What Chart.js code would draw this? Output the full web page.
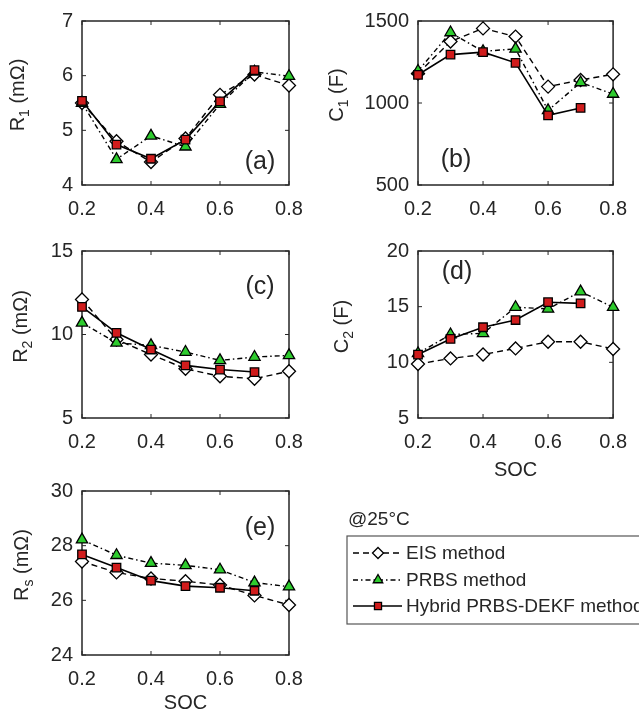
<!DOCTYPE html>
<html>
<head>
<meta charset="utf-8">
<script src="https://cdn.jsdelivr.net/npm/chart.js@4.4.1/dist/chart.umd.min.js"></script>
<style>
  body { margin: 0; background: #fff; width: 639px; height: 721px; overflow: hidden; position: relative; }
  canvas { position: absolute; }
</style>
</head>
<body>
<canvas id="pa" width="320" height="230" style="left:0;top:0"></canvas>
<canvas id="pb" width="319" height="230" style="left:320px;top:0"></canvas>
<canvas id="pc" width="320" height="240" style="left:0;top:230px"></canvas>
<canvas id="pd" width="319" height="260" style="left:320px;top:230px"></canvas>
<canvas id="pe" width="639" height="251" style="left:0;top:470px"></canvas>
<script>
// SOC points and axis ticks
const soc = [0.2, 0.3, 0.4, 0.5, 0.6, 0.7, 0.8];
const socTicks = [0.2, 0.4, 0.6, 0.8];

// (a) R1 (mOhm)
const r1Eis    = [5.5, 4.8, 4.42, 4.85, 5.65, 6.02, 5.82];
const r1Prbs   = [5.5, 4.47, 4.9, 4.7, 5.48, 6.07, 5.99];
const r1Hybrid = [5.54, 4.74, 4.48, 4.83, 5.53, 6.1];
const r1Ticks  = [4, 5, 6, 7];

// (b) C1 (F)
const c1Eis    = [1180, 1375, 1455, 1405, 1100, 1140, 1175];
const c1Prbs   = [1195, 1430, 1315, 1330, 955, 1125, 1055];
const c1Hybrid = [1172, 1295, 1310, 1245, 925, 970];
const c1Ticks  = [500, 1000, 1500];

// (c) R2 (mOhm)
const r2Eis    = [12.1, 9.7, 8.8, 7.95, 7.5, 7.35, 7.8];
const r2Prbs   = [10.7, 9.5, 9.35, 8.95, 8.45, 8.65, 8.75];
const r2Hybrid = [11.65, 10.1, 9.1, 8.15, 7.9, 7.75];
const r2Ticks  = [5, 10, 15];

// (d) C2 (F)
const c2Eis    = [9.85, 10.35, 10.7, 11.25, 11.85, 11.85, 11.2];
const c2Prbs   = [10.8, 12.5, 12.6, 14.95, 14.8, 16.35, 14.95];
const c2Hybrid = [10.7, 12.1, 13.15, 13.8, 15.4, 15.3];
const c2Ticks  = [5, 10, 15, 20];

// (e) Rs (mOhm)
const rsEis    = [27.42, 27.02, 26.8, 26.7, 26.56, 26.18, 25.83];
const rsPrbs   = [28.22, 27.65, 27.36, 27.28, 27.12, 26.65, 26.5];
const rsHybrid = [27.68, 27.2, 26.72, 26.52, 26.46, 26.35];
const rsTicks  = [24, 26, 28, 30];

const methodNames = ['EIS method', 'PRBS method', 'Hybrid PRBS-DEKF method'];

const FONT = '"Liberation Sans", Arial, sans-serif';
const INK = '#262626';

function toPoints(vals) {
    return vals.map((v, i) => ({ x: soc[i], y: v }));
}

function makeDatasets(eis, prbs, hybrid) {
    return [{
        label: methodNames[0],
        data: toPoints(eis),
        borderColor: '#000',
        borderWidth: 1.4,
        borderDash: [6, 4],
        pointStyle: 'rectRot',
        pointRadius: 6.5,
        pointBackgroundColor: '#fff',
        pointBorderColor: '#000',
        pointBorderWidth: 1.3,
        order: 3
    }, {
        label: methodNames[1],
        data: toPoints(prbs),
        borderColor: '#000',
        borderWidth: 1.4,
        borderDash: [5, 3, 1.5, 3],
        pointStyle: 'triangle',
        pointRadius: 6.5,
        pointBackgroundColor: '#2ecc2e',
        pointBorderColor: '#000',
        pointBorderWidth: 1.3,
        order: 2
    }, {
        label: methodNames[2],
        data: toPoints(hybrid),
        borderColor: '#000',
        borderWidth: 1.6,
        borderDash: [],
        pointStyle: 'rect',
        pointRadius: 6,
        pointBackgroundColor: '#d01c1c',
        pointBorderColor: '#000',
        pointBorderWidth: 1.3,
        order: 1
    }];
}

// box around the plot with inward tick marks
const framePlugin = {
    id: 'frame',
    beforeDatasetsDraw(chart) {
        const { ctx, chartArea: a, scales } = chart;
        ctx.save();
        ctx.strokeStyle = INK;
        ctx.lineWidth = 1.5;
        ctx.strokeRect(a.left, a.top, a.right - a.left, a.bottom - a.top);
        ctx.lineWidth = 1;
        ctx.beginPath();
        scales.x.ticks.forEach(t => {
            const px = scales.x.getPixelForValue(t.value);
            ctx.moveTo(px, a.bottom); ctx.lineTo(px, a.bottom - 4);
            ctx.moveTo(px, a.top); ctx.lineTo(px, a.top + 4);
        });
        scales.y.ticks.forEach(t => {
            const py = scales.y.getPixelForValue(t.value);
            ctx.moveTo(a.left, py); ctx.lineTo(a.left + 4, py);
            ctx.moveTo(a.right, py); ctx.lineTo(a.right - 4, py);
        });
        ctx.stroke();
        ctx.restore();
    },
    afterDraw(chart, args, opts) {
        const { ctx, chartArea: a } = chart;
        ctx.save();
        ctx.fillStyle = INK;
        // panel tag, e.g. (a)
        ctx.font = '25px ' + FONT;
        ctx.textAlign = 'center';
        ctx.textBaseline = 'middle';
        ctx.fillText(opts.tag, opts.tagX, opts.tagY);

        // y title with subscript, sitting a little above the middle like the original
        const [main, sub, rest] = opts.yTitle;
        ctx.font = '20px ' + FONT;
        const w1 = ctx.measureText(main).width;
        const w3 = ctx.measureText(rest).width;
        ctx.font = '14px ' + FONT;
        const w2 = ctx.measureText(sub).width;
        const total = w1 + w2 + w3;
        ctx.translate(opts.yTitleX, (a.top + a.bottom) / 2 - 8);
        ctx.rotate(-Math.PI / 2);
        ctx.textAlign = 'left';
        ctx.textBaseline = 'alphabetic';
        let p = -total / 2;
        ctx.font = '20px ' + FONT;
        ctx.fillText(main, p, 0); p += w1;
        ctx.font = '14px ' + FONT;
        ctx.fillText(sub, p, 5); p += w2;
        ctx.font = '20px ' + FONT;
        ctx.fillText(rest, p, 0);
        ctx.restore();
    }
};

// shared legend drawn to the right of panel (e)
const legendPlugin = {
    id: 'sideLegend',
    afterDraw(chart, args, opts) {
        if (!opts.show) return;
        const ctx = chart.ctx;
        ctx.save();
        ctx.fillStyle = INK;
        ctx.font = '19px ' + FONT;
        ctx.textBaseline = 'middle';
        ctx.fillText('@25°C', 348, 50);

        ctx.strokeStyle = '#555';
        ctx.lineWidth = 1.2;
        ctx.strokeRect(347, 66, 320, 88);

        const rows = [83, 110, 136];
        chart.data.datasets.forEach((ds, i) => {
            const y = rows[i];
            ctx.strokeStyle = '#000';
            ctx.lineWidth = ds.borderWidth;
            ctx.setLineDash(ds.borderDash);
            ctx.beginPath();
            ctx.moveTo(353, y); ctx.lineTo(402, y);
            ctx.stroke();
            ctx.setLineDash([]);
            ctx.fillStyle = ds.pointBackgroundColor;
            ctx.strokeStyle = ds.pointBorderColor;
            ctx.lineWidth = ds.pointBorderWidth;
            Chart.helpers.drawPoint(ctx, {
                pointStyle: ds.pointStyle,
                radius: ds.pointRadius - 1,
                borderWidth: ds.pointBorderWidth,
                rotation: 0
            }, 378, y);
            ctx.fillStyle = INK;
            ctx.fillText(ds.label, 406, y + 1);
        });
        ctx.restore();
    }
};

function makePanel(id, g) {
    const ctx = document.getElementById(id).getContext('2d');
    return new Chart(ctx, {
        type: 'line',
        data: { datasets: makeDatasets(g.eis, g.prbs, g.hybrid) },
        plugins: [framePlugin, legendPlugin],
        options: {
            responsive: false,
            animation: false,
            clip: false,
            layout: { padding: { top: g.top, right: g.right, left: 0, bottom: 0 } },
            datasets: { line: { clip: false } },
            scales: {
                x: {
                    type: 'linear',
                    min: 0.2, max: 0.8,
                    afterBuildTicks: s => { s.ticks = socTicks.map(v => ({ value: v })); },
                    afterFit: s => { s.height = g.xh; },
                    grid: { display: false, drawTicks: false },
                    border: { display: false },
                    ticks: {
                        padding: 12,
                        color: INK,
                        font: { family: FONT, size: 20 },
                        callback: v => String(v)
                    },
                    title: {
                        display: !!g.xTitle,
                        text: 'SOC',
                        color: INK,
                        font: { family: FONT, size: 20 },
                        padding: { top: 0, bottom: g.xTitlePad || 0 }
                    }
                },
                y: {
                    type: 'linear',
                    min: g.yTicks[0], max: g.yTicks[g.yTicks.length - 1],
                    afterBuildTicks: s => { s.ticks = g.yTicks.map(v => ({ value: v })); },
                    afterFit: s => { s.width = g.yw; },
                    grid: { display: false, drawTicks: false },
                    border: { display: false },
                    ticks: {
                        padding: 9,
                        color: INK,
                        font: { family: FONT, size: 20 },
                        callback: v => String(v)
                    }
                }
            },
            plugins: {
                legend: { display: false },
                tooltip: { enabled: false },
                frame: { tag: g.tag, tagX: g.tagX, tagY: g.tagY, yTitle: g.yTitle, yTitleX: g.yTitleX },
                sideLegend: { show: !!g.legend }
            }
        }
    });
}

window.addEventListener('load', () => {
    makePanel('pa', { eis: r1Eis, prbs: r1Prbs, hybrid: r1Hybrid, yTicks: r1Ticks,
        top: 14, right: 31, yw: 82, xh: 45, tag: '(a)', tagX: 260, tagY: 162,
        yTitle: ['R', '1', ' (mΩ)'], yTitleX: 24 });
    makePanel('pb', { eis: c1Eis, prbs: c1Prbs, hybrid: c1Hybrid, yTicks: c1Ticks,
        top: 14, right: 15, yw: 98, xh: 45, tag: '(b)', tagX: 136, tagY: 160,
        yTitle: ['C', '1', ' (F)'], yTitleX: 23 });
    makePanel('pc', { eis: r2Eis, prbs: r2Prbs, hybrid: r2Hybrid, yTicks: r2Ticks,
        top: 16, right: 31, yw: 82, xh: 52, tag: '(c)', tagX: 260, tagY: 57,
        yTitle: ['R', '2', ' (mΩ)'], yTitleX: 27 });
    makePanel('pd', { eis: c2Eis, prbs: c2Prbs, hybrid: c2Hybrid, yTicks: c2Ticks,
        top: 16, right: 15, yw: 98, xh: 72, tag: '(d)', tagX: 137, tagY: 42,
        yTitle: ['C', '2', ' (F)'], yTitleX: 28, xTitle: true, xTitlePad: 8 });
    makePanel('pe', { eis: rsEis, prbs: rsPrbs, hybrid: rsHybrid, yTicks: rsTicks,
        top: 15, right: 350, yw: 82, xh: 66, tag: '(e)', tagX: 260, tagY: 58,
        yTitle: ['R', 's', ' (mΩ)'], yTitleX: 28, xTitle: true, xTitlePad: 6, legend: true });
});
</script>
</body>
</html>
